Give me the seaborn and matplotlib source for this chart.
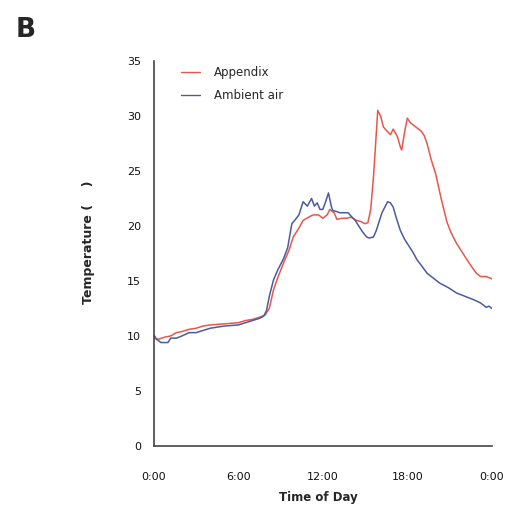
#!/usr/bin/env python3

import numpy as np
import pandas as pd
import seaborn as sns
import matplotlib.pyplot as plt

# hours since midnight, temperatures
appendix_hours = [0.0, 0.3, 0.8, 1.2, 1.6, 2.0, 2.5, 3.0, 3.5, 4.0, 5.0, 6.0, 6.5, 7.0, 7.5,
                  7.9, 8.2, 8.5, 8.8, 9.2, 9.6, 9.9, 10.3, 10.6, 11.0, 11.3, 11.7, 12.0,
                  12.3, 12.5, 12.8, 13.0, 13.4, 13.7, 14.0, 14.4, 14.7, 15.0, 15.2, 15.4,
                  15.6, 15.8, 15.9, 16.1, 16.3, 16.5, 16.8, 17.0, 17.3, 17.5, 17.6, 17.8,
                  18.0, 18.2, 18.4, 18.7, 19.0, 19.2, 19.4, 19.7, 20.0, 20.4, 20.8, 21.1,
                  21.5, 21.9, 22.4, 22.9, 23.2, 23.6, 24.0]
appendix_temp = [9.8, 9.7, 9.9, 10.0, 10.3, 10.4, 10.6, 10.7, 10.9, 11.0, 11.1, 11.2, 11.4,
                 11.5, 11.7, 11.9, 12.5, 14.2, 15.3, 16.6, 17.8, 19.0, 19.8, 20.5, 20.8,
                 21.0, 21.0, 20.7, 21.0, 21.5, 21.2, 20.6, 20.7, 20.7, 20.8, 20.5, 20.4,
                 20.2, 20.3, 21.5, 24.5, 28.5, 30.5, 30.0, 29.0, 28.7, 28.3, 28.8, 28.1,
                 27.2, 26.9, 28.5, 29.8, 29.4, 29.2, 28.9, 28.6, 28.2, 27.5, 26.0, 24.8,
                 22.5, 20.4, 19.4, 18.4, 17.6, 16.6, 15.7, 15.4, 15.4, 15.2]

ambient_hours = [0.0, 0.2, 0.5, 1.0, 1.2, 1.6, 2.0, 2.5, 3.0, 3.5, 4.0, 4.5, 5.0, 6.0, 6.5,
                 7.0, 7.5, 7.8, 8.0, 8.2, 8.5, 8.8, 9.2, 9.5, 9.8, 10.0, 10.3, 10.6, 10.9,
                 11.2, 11.4, 11.6, 11.8, 12.0, 12.2, 12.4, 12.6, 12.7, 13.0, 13.2, 13.5,
                 13.8, 14.0, 14.3, 14.8, 15.1, 15.3, 15.6, 15.8, 16.2, 16.6, 16.8, 17.0,
                 17.2, 17.5, 17.8, 18.0, 18.4, 18.7, 19.0, 19.4, 19.8, 20.3, 20.9, 21.5,
                 22.1, 22.7, 23.2, 23.6, 23.8, 24.0]
ambient_temp = [10.1, 9.7, 9.4, 9.4, 9.8, 9.8, 10.0, 10.3, 10.3, 10.5, 10.7, 10.8, 10.9,
                11.0, 11.2, 11.4, 11.6, 11.8, 12.3, 13.6, 15.1, 16.0, 17.0, 18.0, 20.2,
                20.5, 21.0, 22.2, 21.8, 22.5, 21.8, 22.1, 21.5, 21.5, 22.2, 23.0, 21.8,
                21.4, 21.3, 21.2, 21.2, 21.2, 20.9, 20.5, 19.5, 19.0, 18.9, 19.0, 19.6,
                21.2, 22.2, 22.1, 21.7, 20.8, 19.6, 18.8, 18.4, 17.6, 16.9, 16.4, 15.7,
                15.3, 14.8, 14.4, 13.9, 13.6, 13.3, 13.0, 12.6, 12.7, 12.5]

series_names = ["Appendix", "Ambient air"]
series_colors = ["#e8564b", "#4b5b9f"]
x_ticks = [0, 6, 12, 18, 24]
x_tick_labels = ["0:00", "6:00", "12:00", "18:00", "0:00"]
y_ticks = [0, 5, 10, 15, 20, 25, 30, 35]


def build_frame() -> pd.DataFrame:
    parts = [
        pd.DataFrame({"hour": appendix_hours, "temp": appendix_temp, "site": series_names[0]}),
        pd.DataFrame({"hour": ambient_hours, "temp": ambient_temp, "site": series_names[1]}),
    ]
    return pd.concat(parts, ignore_index=True)


def main():
    sns.set_theme(style="white")
    plt.rcParams["font.family"] = ["DejaVu Sans"]

    data = build_frame()

    fig = plt.figure(figsize=(5.06, 5.12), dpi=100)
    ax = fig.add_axes([0.304, 0.129, 0.668, 0.752])

    sns.lineplot(
        data=data,
        x="hour",
        y="temp",
        hue="site",
        palette=dict(zip(series_names, series_colors)),
        linewidth=1.1,
        sort=False,
        estimator=None,
        ax=ax,
    )

    ax.set_xlim(0, 24)
    ax.set_ylim(0, 35)
    ax.set_xticks(x_ticks)
    ax.set_xticklabels(x_tick_labels)
    ax.set_yticks(y_ticks)
    ax.tick_params(axis="both", direction="in", length=3, width=1, colors="#333333",
                   labelsize=8, labelcolor="#111111")
    ax.tick_params(axis="y", pad=9)
    ax.tick_params(axis="x", pad=19)

    for side in ["top", "right"]:
        ax.spines[side].set_visible(False)
    for side in ["left", "bottom"]:
        ax.spines[side].set_color("#444444")
        ax.spines[side].set_linewidth(1.2)

    ax.set_xlabel("Time of Day", fontsize=8.5, fontweight="bold")
    ax.set_ylabel("Temperature (    )", fontsize=9, fontweight="bold")
    ax.xaxis.set_label_coords(0.486, -0.117)
    ax.yaxis.set_label_coords(-0.175, 0.53)

    leg = ax.legend(
        loc="upper left",
        bbox_to_anchor=(0.05, 1.015),
        frameon=False,
        fontsize=8.5,
        handlelength=1.6,
        handletextpad=1.2,
        labelspacing=0.9,
    )
    for line in leg.get_lines():
        line.set_linewidth(1.0)

    fig.text(0.03, 0.928, "B", fontsize=19, fontweight="bold")

    fig.savefig("out.png", dpi=100)


if __name__ == "__main__":
    main()
